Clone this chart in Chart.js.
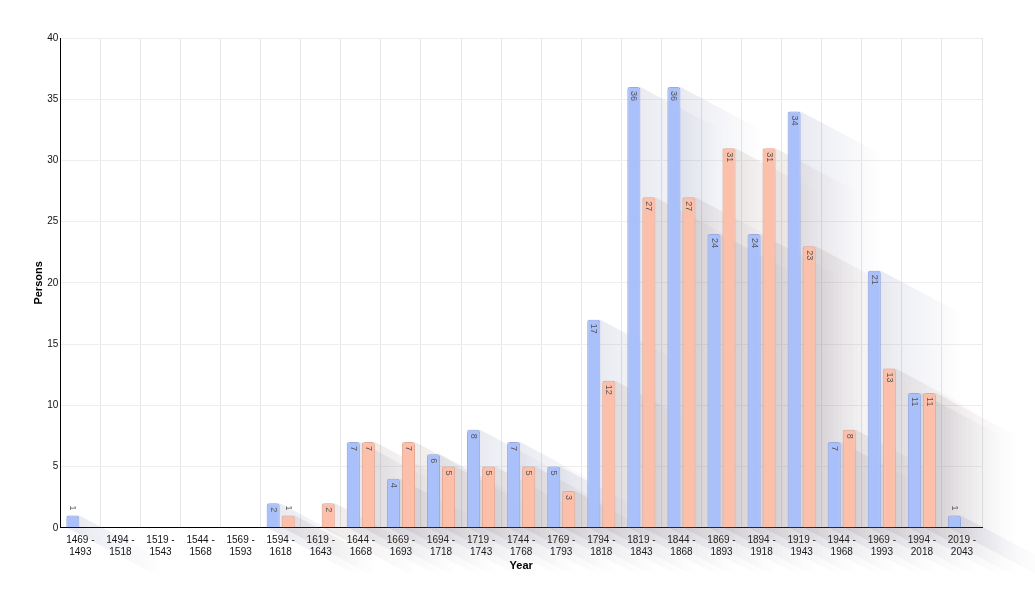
<!DOCTYPE html>
<html>
<head>
<meta charset="utf-8">
<script src="https://cdn.jsdelivr.net/npm/chart.js@4"></script>
<style>
  html, body { margin: 0; padding: 0; background: #fff; }
  #wrap { width: 1035px; height: 601px; }
</style>
</head>
<body>
<div id="wrap"><canvas id="chart"></canvas></div>
<script>
// Data
const periods = ['1469 - 1493', '1494 - 1518', '1519 - 1543', '1544 - 1568', '1569 - 1593',
  '1594 - 1618', '1619 - 1643', '1644 - 1668', '1669 - 1693', '1694 - 1718', '1719 - 1743',
  '1744 - 1768', '1769 - 1793', '1794 - 1818', '1819 - 1843', '1844 - 1868', '1869 - 1893',
  '1894 - 1918', '1919 - 1943', '1944 - 1968', '1969 - 1993', '1994 - 2018', '2019 - 2043'];
const blueValues = [1, 0, 0, 0, 0, 2, 0, 7, 4, 6, 8, 7, 5, 17, 36, 36, 24, 24, 34, 7, 21, 11, 1];
const orangeValues = [0, 0, 0, 0, 0, 1, 2, 7, 7, 5, 5, 5, 3, 12, 27, 27, 31, 31, 23, 8, 13, 11, 0];
const yTicks = [0, 5, 10, 15, 20, 25, 30, 35, 40];

const font = '"Liberation Sans", Arial, Helvetica, sans-serif';

// long diagonal shadows behind bars, fading to the right
const longShadow = {
  id: 'longShadow',
  beforeDatasetsDraw(chart) {
    const ctx = chart.ctx;
    const L = 110;
    chart.data.datasets.forEach((ds, di) => {
      const meta = chart.getDatasetMeta(di);
      meta.data.forEach((bar, i) => {
        if (!ds.data[i]) return;
        const w = bar.width;
        const xl = bar.x - w / 2, xr = bar.x + w / 2;
        const top = bar.y, base = bar.base;
        const g = ctx.createLinearGradient(xr, 0, xr + L * 0.75, 0);
        g.addColorStop(0, ds.shadowColor + '0.13)');
        g.addColorStop(1, ds.shadowColor + '0)');
        ctx.save();
        ctx.fillStyle = g;
        ctx.beginPath();
        ctx.moveTo(xl, top);
        ctx.lineTo(xr, top);
        ctx.lineTo(xr + L, top + L * 0.53);
        ctx.lineTo(xr + L, base + L * 0.53);
        ctx.lineTo(xl + L, base + L * 0.53);
        ctx.lineTo(xl, base);
        ctx.closePath();
        ctx.fill();
        ctx.restore();
      });
    });
  }
};

// rotated value labels
const valueLabels = {
  id: 'valueLabels',
  afterDatasetsDraw(chart) {
    const ctx = chart.ctx;
    ctx.save();
    ctx.font = '9px ' + font;
    ctx.fillStyle = '#555';
    chart.data.datasets.forEach((ds, di) => {
      const meta = chart.getDatasetMeta(di);
      meta.data.forEach((bar, i) => {
        const v = ds.data[i];
        if (!v) return;
        const txt = String(v);
        const tw = ctx.measureText(txt).width;
        const h = bar.base - bar.y;
        let y = bar.y + 4;
        if (h < tw + 8) y = bar.y - tw - 5;
        ctx.save();
        ctx.translate(bar.x, y);
        ctx.rotate(Math.PI / 2);
        ctx.textAlign = 'left';
        ctx.textBaseline = 'middle';
        ctx.fillText(txt, 0, 0);
        ctx.restore();
      });
    });
    ctx.restore();
  }
};

new Chart(document.getElementById('chart'), {
  type: 'bar',
  data: {
    labels: periods.map(p => p.replace(' - ', ' -|').split('|')),
    datasets: [{
      label: 'A',
      data: blueValues,
      backgroundColor: 'rgb(170, 192, 250)',
      borderColor: 'rgb(150, 170, 225)',
      shadowColor: 'rgba(90, 100, 150, ',
      borderWidth: 1,
      borderRadius: 3,
      categoryPercentage: 0.75,
      barPercentage: 0.87
    }, {
      label: 'B',
      data: orangeValues,
      backgroundColor: 'rgb(252, 192, 170)',
      borderColor: 'rgb(228, 170, 150)',
      shadowColor: 'rgba(130, 100, 90, ',
      borderWidth: 1,
      borderRadius: 3,
      categoryPercentage: 0.75,
      barPercentage: 0.87
    }]
  },
  options: {
    responsive: true,
    maintainAspectRatio: false,
    animation: false,
    layout: { padding: { left: 32, right: 53, top: 38, bottom: 24 } },
    plugins: {
      legend: { display: false },
      tooltip: { enabled: false }
    },
    scales: {
      x: {
        grid: { color: '#e6e6e6', offset: true, drawTicks: false },
        border: { color: '#000', width: 1 },
        ticks: { color: '#111', font: { family: font, size: 10 }, maxRotation: 0, autoSkip: false, padding: 6 },
        title: { display: true, text: 'Year', color: '#000', font: { family: font, size: 11, weight: 'bold' }, padding: { top: -4 } }
      },
      y: {
        min: 0,
        max: 40,
        afterBuildTicks: axis => { axis.ticks = yTicks.map(v => ({ value: v })); },
        grid: { color: '#eeeeee', drawTicks: false },
        border: { color: '#000', width: 1 },
        ticks: { color: '#111', font: { family: font, size: 10 }, padding: 2 },
        title: { display: true, text: 'Persons', color: '#000', font: { family: font, size: 11, weight: 'bold' }, padding: 0 }
      }
    }
  },
  plugins: [longShadow, valueLabels]
});
</script>
</body>
</html>
